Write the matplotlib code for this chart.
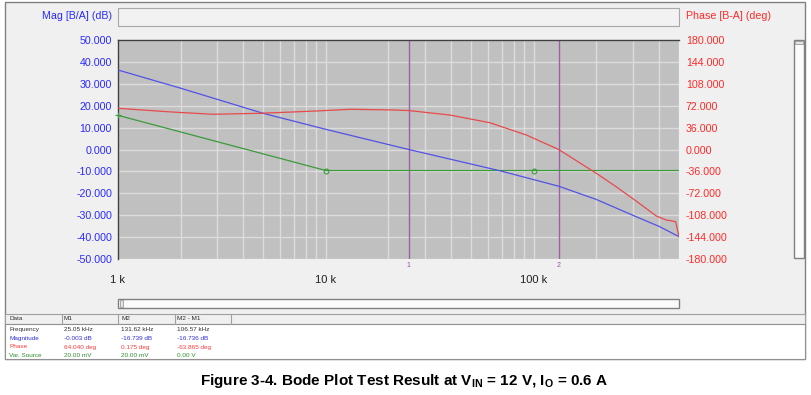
import matplotlib
matplotlib.use('Agg')
import matplotlib.pyplot as plt
from matplotlib.patches import Rectangle
from matplotlib.lines import Line2D
from matplotlib.ticker import LogLocator, FixedLocator, NullFormatter

plt.rcParams['font.family'] = ['Liberation Sans', 'DejaVu Sans']
plt.rcParams['mathtext.fontset'] = 'custom'
plt.rcParams['mathtext.bf'] = 'Liberation Sans:bold'
plt.rcParams['mathtext.rm'] = 'Liberation Sans'

# ---------------- data ----------------
mag_freq = [1000, 2000, 5000, 10000, 25050, 68700, 131620, 200000, 306000, 403000, 500000]
mag_db = [36.3, 28.0, 16.5, 9.2, -0.003, -9.7, -16.739, -22.8, -30.4, -35.2, -39.8]

phase_freq = [1000, 1845, 2862, 4816, 9022, 13045, 21000, 25050, 39450, 61400,
              92200, 131620, 200000, 250000, 306000, 389000, 434500, 481600, 500000]
phase_deg = [67.7, 61.5, 57.9, 59.5, 63.3, 66.1, 65.0, 64.04, 56.7, 44.1,
             23.8, 0.175, -39.1, -61.5, -83.0, -109.3, -115.9, -118.6, -143.3]

src_freq = [1000, 10000, 100000, 500000]
src_val = [15.6, -9.6, -9.6, -9.6]

cursor_freqs = [25050, 131620]
cursor_labels = ['1', '2']

mag_ticks = [50, 40, 30, 20, 10, 0, -10, -20, -30, -40, -50]
phase_ticks = [180, 144, 108, 72, 36, 0, -36, -72, -108, -144, -180]
x_ticks = [1e3, 1e4, 1e5]
x_ticklabels = ['1 k', '10 k', '100 k']

table_header = ['Data', 'M1', 'M2', 'M2 - M1']
table_rows = ['Frequency', 'Magnitude', 'Phase', 'Var. Source']
table_m1 = ['25.05 kHz', '-0.003 dB', '64.040 deg', '20.00 mV']
table_m2 = ['131.62 kHz', '-16.739 dB', '0.175 deg', '20.00 mV']
table_diff = ['106.57 kHz', '-16.736 dB', '-63.865 deg', '0.00 V']

# ---------------- figure ----------------
W, H = 811, 395
fig = plt.figure(figsize=(W / 100, H / 100), dpi=100)
fig.patch.set_facecolor('white')


def fx(x):
    return x / W


def fy(y):
    return 1 - y / H


def rect(x0, y0, x1, y1, fc, ec='none', lw=0.8, z=-2):
    fig.patches.append(Rectangle((fx(x0), fy(y1)), fx(x1) - fx(x0), fy(y0) - fy(y1),
                                 transform=fig.transFigure, facecolor=fc,
                                 edgecolor=ec, linewidth=lw, zorder=z))


def vline(x, y0, y1, c='#a0a0a0', lw=0.8):
    fig.lines.append(Line2D([fx(x), fx(x)], [fy(y0), fy(y1)], transform=fig.transFigure,
                            color=c, lw=lw, zorder=-1))


BLUE_T = '#2a2aff'
RED_T = '#ff2a2a'

# outer panel
rect(5, 2, 805, 359, '#f0f0f0', ec='#808080', lw=1.0, z=-3)
# header strip
rect(118, 8, 679, 26, '#f2f2f2', ec='#a8a8a8')
# bottom scrollbar
rect(118, 299, 679, 308, '#fbfbfb', ec='#808080', lw=1.0)
rect(119.5, 300.5, 122.5, 306.5, '#e4e4e4', ec='#999999', lw=0.6, z=-1)
# right scrollbar
rect(794, 40, 804, 258, '#fbfbfb', ec='#808080', lw=1.0)
rect(795, 41, 803, 44, '#e4e4e4', ec='#999999', lw=0.6, z=-1)
# table
rect(5, 314, 805, 324, '#f0f0f0', ec='#a0a0a0')
rect(5, 324, 805, 359, 'white', ec='#909090')
for xs in [62, 118, 175, 231]:
    vline(xs, 314, 324)

# ---------------- plot ----------------
ax = fig.add_axes([fx(118), fy(259), fx(679) - fx(118), fy(40) - fy(259)])
ax.set_zorder(2)
ax.set_facecolor('#c0c0c0')
ax.set_xscale('log')
ax.set_xlim(1e3, 5e5)
ax.set_ylim(-50, 50)

ax.xaxis.set_major_locator(FixedLocator(x_ticks))
ax.set_xticklabels(x_ticklabels)
ax.xaxis.set_minor_locator(LogLocator(base=10, subs=[2, 3, 4, 5, 6, 7, 8, 9]))
ax.xaxis.set_minor_formatter(NullFormatter())
ax.set_yticks(mag_ticks)
ax.set_yticklabels([f'{v:.3f}' for v in mag_ticks])
ax.tick_params(axis='y', length=0, pad=4.3, labelsize=7.7, labelcolor=BLUE_T)
ax.tick_params(axis='x', which='both', length=0, pad=11.5, labelsize=8, labelcolor='#202020')
ax.grid(True, which='both', axis='x', color='#dcdcdc', lw=1.0)
ax.grid(True, which='major', axis='y', color='#dcdcdc', lw=1.0)
ax.set_axisbelow(True)
for s in ['right', 'bottom']:
    ax.spines[s].set_visible(False)
for s in ['left', 'top']:
    ax.spines[s].set_color('#404040')
    ax.spines[s].set_linewidth(1.0)

for cf, cl in zip(cursor_freqs, cursor_labels):
    ax.axvline(cf, color='#a060a8', lw=1.0, zorder=2)
    ax.text(cf, -0.03, cl, transform=ax.get_xaxis_transform(), ha='center', va='center',
            fontsize=5, color='#9050a0')

ax.plot(src_freq, src_val, color='#3c9a3c', lw=0.9, zorder=3)
ax.plot(src_freq[1:3], src_val[1:3], ls='none', marker='o', ms=3.5, mfc='none',
        mec='#3c9a3c', mew=0.8, zorder=4)
ax.plot(src_freq[:1], src_val[:1], ls='none', marker='+', ms=4, mec='#3c9a3c', mew=0.8,
        zorder=4, clip_on=False)
ax.plot(mag_freq, mag_db, color='#5252e6', lw=0.9, zorder=3)

ax2 = ax.twinx()
ax2.set_zorder(3)
ax2.patch.set_visible(False)
ax2.set_ylim(-180, 180)
ax2.set_yticks(phase_ticks)
ax2.set_yticklabels([f'{v:.3f}' for v in phase_ticks])
ax2.tick_params(axis='y', length=0, pad=5, labelsize=7.7, labelcolor=RED_T)
for s in ax2.spines.values():
    s.set_visible(False)
ax2.plot(phase_freq, phase_deg, color='#e84a4a', lw=0.9, zorder=3)
ax2.set_xlim(1e3, 5e5)

fig.text(fx(112), fy(16), 'Mag [B/A] (dB)', ha='right', va='center', color=BLUE_T, fontsize=7.7)
fig.text(fx(686), fy(16), 'Phase [B-A] (deg)', ha='left', va='center', color=RED_T, fontsize=7.7)

# ---------------- table text ----------------
col_x = [9, 64, 121, 177]
for cx, t in zip(col_x, table_header):
    fig.text(fx(cx), fy(319), t, ha='left', va='center', fontsize=4.6, color='#303030')
row_y = [329.3, 338.3, 347, 355.7]
row_colors = ['#303030', '#3030d8', '#ff3a3a', '#2e8f2e']
for i, ry in enumerate(row_y):
    for cx, vals in zip(col_x, [table_rows, table_m1, table_m2, table_diff]):
        fig.text(fx(cx), fy(ry), vals[i], ha='left', va='center', fontsize=4.6,
                 color=row_colors[i])

# ---------------- caption ----------------
fig.text(fx(404), fy(381),
         r'Figure 3-4. Bode Plot Test Result at V$_{\mathbf{IN}}$ = 12 V, I$_{\mathbf{O}}$ = 0.6 A',
         ha='center', va='center', fontsize=11, fontweight='bold', color='black')

fig.savefig('out.png', dpi=100)
